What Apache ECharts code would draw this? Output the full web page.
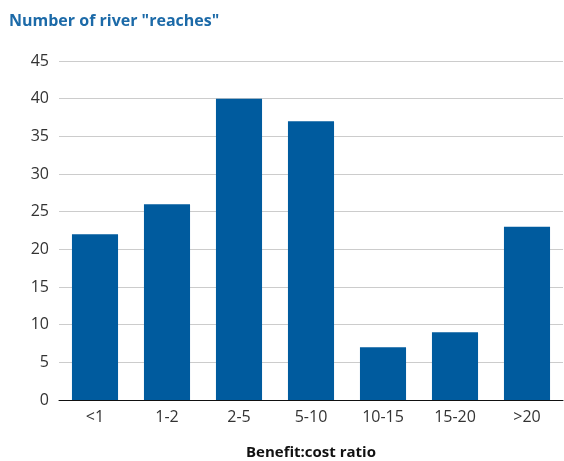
<!DOCTYPE html>
<html>
<head>
<meta charset="utf-8">
<script src="https://cdn.jsdelivr.net/npm/echarts@6/dist/echarts.min.js"></script>
<style>
  html, body { margin: 0; padding: 0; background: #fff; overflow: hidden; }
  #chart { width: 564px; height: 461px; }
</style>
</head>
<body>
<div id="chart"></div>
<script>
// Benefit:cost ratio bands and the number of river reaches in each
const categories = ['<1', '1-2', '2-5', '5-10', '10-15', '15-20', '>20'];
const reaches = [22, 26, 40, 37, 7, 9, 23];
const yTicks = { min: 0, max: 45, interval: 5 };

const chart = echarts.init(document.getElementById('chart'), null, { renderer: 'canvas', width: 564, height: 461 });
chart.setOption({
  animation: false,
  backgroundColor: '#ffffff',
  textStyle: { fontFamily: 'Open Sans' },
  title: {
    text: 'Number of river "reaches"',
    left: 4, top: 8,
    textStyle: { color: '#1c6aa8', fontSize: 16, fontWeight: 'bold', fontFamily: 'Open Sans' }
  },
  grid: { left: 59, right: 1, top: 61, bottom: 61, containLabel: false, outerBoundsMode: 'none' },
  xAxis: {
    type: 'category',
    data: categories,
    name: 'Benefit:cost ratio',
    nameLocation: 'middle',
    nameGap: 45,
    nameTextStyle: { color: '#111', fontSize: 15, fontWeight: 'bold' },
    axisLine: { lineStyle: { color: '#111', width: 1 } },
    axisTick: { show: false },
    axisLabel: { color: '#333', fontSize: 16, margin: 9 }
  },
  yAxis: {
    type: 'value',
    min: yTicks.min, max: yTicks.max, interval: yTicks.interval,
    axisLine: { show: false },
    axisTick: { show: false },
    axisLabel: { color: '#333', fontSize: 16, margin: 10 },
    splitLine: { lineStyle: { color: '#cccccc', width: 1 } }
  },
  series: [{
    type: 'bar',
    data: reaches,
    barCategoryGap: '36%',
    itemStyle: { color: '#005b9e' }
  }]
});
</script>
</body>
</html>
